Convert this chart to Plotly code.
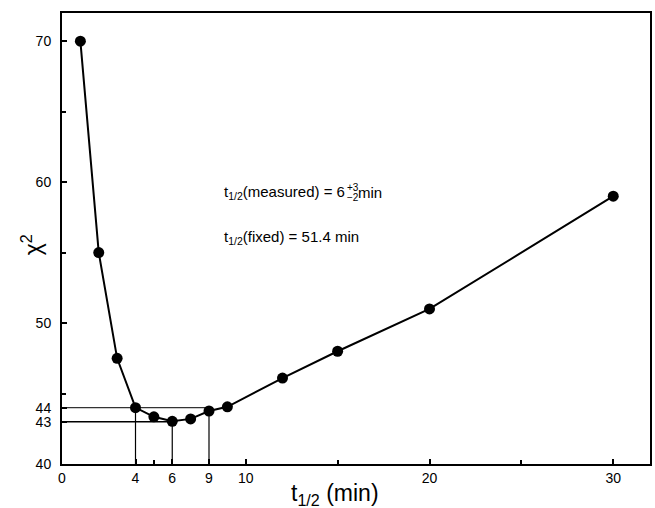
import plotly.graph_objects as go

# chi-square scan versus trial half-life
t_half = [1, 2, 3, 4, 5, 6, 7, 8, 9, 12, 15, 20, 30]
chi2 = [70.0, 55.0, 47.5, 44.0, 43.35, 43.03, 43.2, 43.76, 44.06, 46.1, 48.0, 51.0, 59.0]

# confidence construction: chi2 levels and bound positions
chi2_min = 43
chi2_limit = 44
bound_pos = [4, 6, 8]          # where the bound lines are drawn
bound_chi2 = [44.0, 43.03, 43.76]

x_tickvals = [0, 4, 6, 8, 10, 20, 30]
x_ticktext = ["0", "4", "6", "9", "10", "20", "30"]
x_minor = [5, 15, 25]
y_tickvals = [40, 43, 44, 50, 60, 70]
y_ticktext = ["40", "43", "44", "50", "60", "70"]
y_minor = [45, 55, 65]

FONT = "Liberation Sans, Arial, Helvetica, sans-serif"

fig = go.Figure()

# horizontal reference lines at chi2 = 43 and 44
fig.add_trace(go.Scatter(x=[0, bound_pos[1]], y=[chi2_min, chi2_min], mode="lines",
                         line=dict(color="black", width=1.5), hoverinfo="skip"))
fig.add_trace(go.Scatter(x=[0, bound_pos[2]], y=[chi2_limit, chi2_limit], mode="lines",
                         line=dict(color="#333333", width=1.1), hoverinfo="skip"))
# vertical drop lines to the axis
for bx, by in zip(bound_pos, bound_chi2):
    fig.add_trace(go.Scatter(x=[bx, bx], y=[40, by], mode="lines",
                             line=dict(color="black", width=1.2), hoverinfo="skip"))

fig.add_trace(go.Scatter(x=t_half, y=chi2, mode="lines+markers",
                         line=dict(color="black", width=2),
                         marker=dict(color="black", size=11)))

axis_common = dict(showline=True, mirror=True, linecolor="black", linewidth=2,
                   ticks="inside", ticklen=5, tickwidth=1.5, tickcolor="black",
                   showgrid=False, zeroline=False,
                   tickfont=dict(family=FONT, size=14, color="black"))

fig.update_layout(
    width=655, height=508,
    margin=dict(l=62, r=3, t=13, b=44),
    paper_bgcolor="white", plot_bgcolor="white",
    showlegend=False,
    xaxis=dict(range=[0, 32], tickmode="array", tickvals=x_tickvals, ticktext=x_ticktext,
               minor=dict(tickvals=x_minor, ticks="inside", ticklen=4, tickwidth=1.5,
                          tickcolor="black"),
               **axis_common),
    yaxis=dict(range=[40, 72], tickmode="array", tickvals=y_tickvals, ticktext=y_ticktext,
               ticklabelstandoff=6,
               minor=dict(tickvals=y_minor, ticks="inside", ticklen=4, tickwidth=1.5,
                          tickcolor="black"),
               **axis_common),
)

tfont = dict(family=FONT, size=23, color="black")
afont = dict(family=FONT, size=15, color="black")
sfont = dict(family=FONT, size=10, color="black")

annotations = [
    dict(text="t<sub>1/2</sub> (min)", xref="paper", yref="paper", x=0.464, y=-0.067,
         xanchor="center", yanchor="middle", showarrow=False, font=tfont),
    dict(text="χ<sup>2</sup>", xref="paper", yref="paper", x=-0.052, y=0.486,
         xanchor="center", yanchor="middle", showarrow=False, font=tfont, textangle=-90),
    dict(text="t<sub>1/2</sub>(measured) = 6", x=8.68, y=59.23, xanchor="left",
         yanchor="middle", showarrow=False, font=afont),
    dict(text="+3", x=15.38, y=59.6, xanchor="left", yanchor="middle",
         showarrow=False, font=sfont),
    dict(text="−2", x=15.38, y=58.94, xanchor="left", yanchor="middle",
         showarrow=False, font=sfont),
    dict(text="min", x=15.98, y=59.23, xanchor="left", yanchor="middle",
         showarrow=False, font=afont),
    dict(text="t<sub>1/2</sub>(fixed) = 51.4 min", x=8.68, y=56.1, xanchor="left",
         yanchor="middle", showarrow=False, font=afont),
]
fig.update_layout(annotations=annotations)

fig.write_html("out.html")
